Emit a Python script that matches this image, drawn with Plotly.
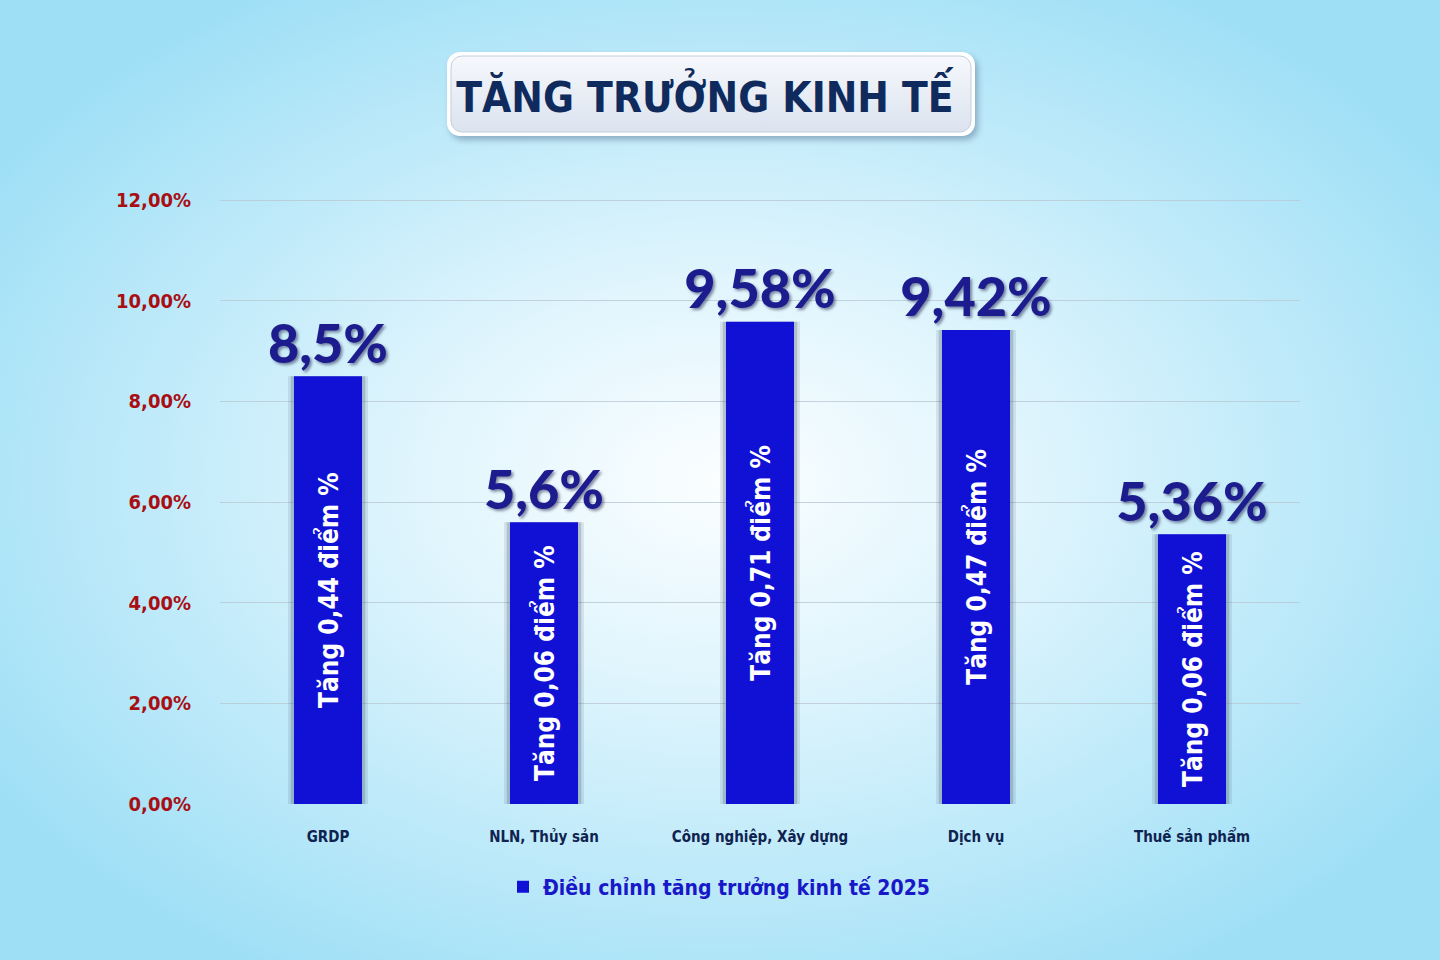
import base64
import plotly.graph_objects as go

# ---------------- data ----------------
categories = ["GRDP", "NLN, Thủy sản", "Công nghiệp, Xây dựng", "Dịch vụ", "Thuế sản phẩm"]
growth = [8.5, 5.6, 9.58, 9.42, 5.36]
value_labels = ["8,5%", "5,6%", "9,58%", "9,42%", "5,36%"]
increase_labels = ["Tăng 0,44 điểm %", "Tăng 0,06 điểm %", "Tăng 0,71 điểm %",
                   "Tăng 0,47 điểm %", "Tăng 0,06 điểm %"]
y_ticks = [0, 2, 4, 6, 8, 10, 12]
y_tick_labels = ["0,00%", "2,00%", "4,00%", "6,00%", "8,00%", "10,00%", "12,00%"]
chart_title = "TĂNG TRƯỞNG KINH TẾ"
series_name = "Điều chỉnh tăng trưởng kinh tế 2025"

# ---------------- style ----------------
W, H = 1440, 960
ML, MR, MT, MB = 220, 140, 197, 156
NARROW = "DejaVu Sans Condensed, Liberation Sans Narrow, Roboto, sans-serif"
ROUND = "Lato, Inter, Open Sans, sans-serif"
BAR_COLOR = "#1111d6"

svg = f"""<svg xmlns="http://www.w3.org/2000/svg" width="{W}" height="{H}" viewBox="0 0 {W} {H}">
<defs>
<radialGradient id="bg" cx="50%" cy="50%" r="60%">
<stop offset="0" stop-color="#fbfeff"/>
<stop offset="0.35" stop-color="#e0f5fd"/>
<stop offset="1" stop-color="#9edff6"/>
</radialGradient>
<linearGradient id="box" x1="0" y1="0" x2="0" y2="1">
<stop offset="0" stop-color="#f6f8fc"/>
<stop offset="1" stop-color="#dbe3ef"/>
</linearGradient>
<filter id="sh" x="-10%" y="-30%" width="120%" height="160%"><feGaussianBlur stdDeviation="3"/></filter>
</defs>
<rect width="{W}" height="{H}" fill="url(#bg)"/>
<rect x="450" y="56" width="528" height="84" rx="13" fill="#4a6486" opacity="0.45" filter="url(#sh)"/>
<rect x="447" y="52" width="528" height="84" rx="13" fill="#ffffff"/>
<rect x="451" y="56" width="520" height="76" rx="11" fill="url(#box)" stroke="#c4cedd" stroke-width="1"/>
</svg>"""
svg_uri = "data:image/svg+xml;base64," + base64.b64encode(svg.encode("utf-8")).decode()

plot_w = W - ML - MR
plot_h = H - MT - MB

fig = go.Figure()

# soft shadows behind bars
for w, a in [(0.37, 0.12), (0.345, 0.22)]:
    fig.add_trace(go.Bar(
        x=categories, y=growth, width=w,
        marker=dict(color=f"rgba(60,70,95,{a})", line=dict(width=0)),
        showlegend=False, hoverinfo="skip",
    ))

fig.add_trace(go.Bar(
    x=categories, y=growth, width=0.315, name=series_name,
    marker=dict(color=BAR_COLOR, line=dict(width=0)),
    text=increase_labels, textposition="inside", insidetextanchor="middle",
    textangle=-90, constraintext="none",
    textfont=dict(family=NARROW, size=26, color="white", weight="bold"),
))

fig.add_trace(go.Scatter(
    x=categories, y=growth, mode="text", text=value_labels,
    textposition="top center", showlegend=False, hoverinfo="skip",
    textfont=dict(family=ROUND, size=54, color="#1c1c8e", weight=900,
                  shadow="2px 2px 3px rgba(0,0,50,0.45)"),
))

fig.update_layout(
    width=W, height=H,
    margin=dict(l=ML, r=MR, t=MT, b=MB, pad=0),
    paper_bgcolor="#a8e4f8", plot_bgcolor="rgba(0,0,0,0)",
    barmode="overlay",
    images=[dict(source=svg_uri, xref="paper", yref="paper",
                 x=-ML / plot_w, y=1 + MT / plot_h,
                 sizex=W / plot_w, sizey=H / plot_h,
                 sizing="stretch", xanchor="left", yanchor="top", layer="below")],
    title=dict(text=chart_title, xref="container", yref="container",
               x=705 / W, y=1 - 97 / H, xanchor="center", yanchor="middle",
               font=dict(family=NARROW, size=42, color="#0f2a5c", weight="bold")),
    xaxis=dict(showgrid=False, zeroline=False, showline=False, ticks="",
               range=[-0.5, 4.5], ticklabelstandoff=22,
               tickfont=dict(family=NARROW, size=15, color="#0f2350", weight="bold")),
    yaxis=dict(range=[0, 12.06], tickvals=y_ticks, ticktext=y_tick_labels,
               showgrid=True, gridcolor="rgba(185,200,212,0.8)", gridwidth=1,
               zeroline=False, showline=False, ticks="", ticklabelstandoff=28,
               tickfont=dict(family=NARROW, size=20, color="#a80f14", weight="bold")),
    legend=dict(orientation="h", xref="container", yref="container",
                x=719 / W, y=1 - 887 / H, xanchor="center", yanchor="middle",
                bgcolor="rgba(0,0,0,0)",
                font=dict(family=NARROW, size=21, color="#1818c8", weight="bold")),
    showlegend=True,
)

fig.write_html("out.html", config={"displayModeBar": False},
               post_script="document.body.style.margin='0';")
